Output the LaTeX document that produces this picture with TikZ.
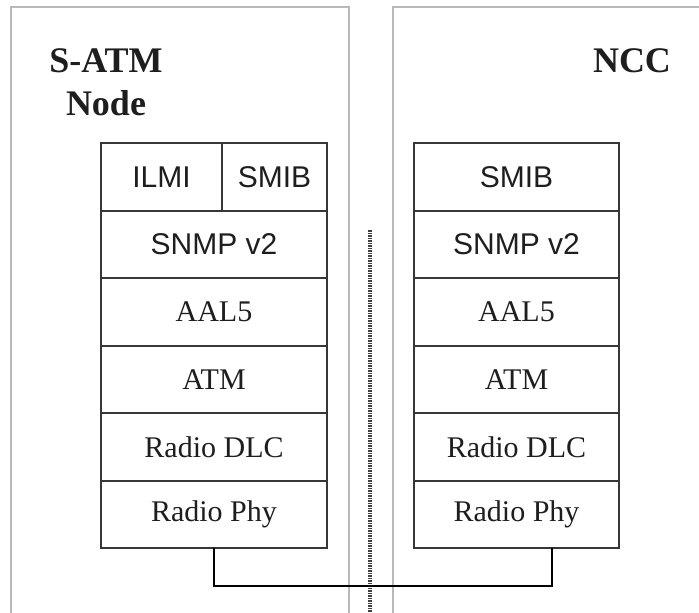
\documentclass[tikz,border=0pt]{standalone}
\usepackage{fontspec}
\setmainfont{Liberation Serif}
\newfontfamily\arialfont{Liberation Sans}
\usetikzlibrary{calc}
\definecolor{framegray}{RGB}{185,185,185}
\definecolor{cellline}{RGB}{55,55,55}
\definecolor{inktext}{RGB}{30,30,30}
\tikzset{
  frame/.style={draw=framegray, line width=1.4pt},
  layer/.style={draw=cellline, line width=2pt, rectangle, inner sep=0pt, outer sep=0pt,
                minimum height=67.5pt, text=inktext, font=\fontsize{30}{30}\selectfont},
  sanslayer/.style={layer, font=\arialfont\fontsize{30}{30}\selectfont},
  title/.style={font=\bfseries\fontsize{36}{43}\selectfont, text=inktext, align=center, inner sep=0pt},
  link/.style={draw=black, line width=2.8pt},
  divider/.style={draw=black!75, line width=3.5pt, dash pattern=on 1.5pt off 1pt}
}
\begin{document}
\begin{tikzpicture}[x=1pt,y=-1pt]
  \useasboundingbox (0,0) rectangle (699,613);
  \clip (0,0) rectangle (699,613);
  \fill[white] (0,0) rectangle (699,613);

  % the two enclosures
  \draw[frame] (11,7) rectangle (349,640);
  \draw[frame] (393,7) rectangle (720,640);

  % separator between the two sides
  \draw[divider] (370,230) -- (370,613);

  % titles (base anchor sits on the last line)
  \node[title, anchor=base] (satm) at (106,115) {S-ATM\\Node};
  \node[title, anchor=base] (ncc) at (632,72) {NCC};

  % S-ATM node protocol stack
  \node[sanslayer, minimum width=121pt, anchor=north west] (lilmi) at (101,143) {ILMI};
  \node[sanslayer, minimum width=105pt, anchor=north west] (lsmib) at (222,143) {SMIB};
  \node[sanslayer, minimum width=226pt, anchor=north west] (lsnmp) at (101,210.5) {SNMP v2};
  \node[layer, minimum width=226pt, anchor=north] (laal) at (lsnmp.south) {AAL5};
  \node[layer, minimum width=226pt, anchor=north] (latm) at (laal.south) {ATM};
  \node[layer, minimum width=226pt, anchor=north] (ldlc) at (latm.south) {Radio DLC};
  \node[layer, minimum width=226pt, anchor=north] (lphy) at (ldlc.south) {Radio Phy};

  % NCC protocol stack
  \node[sanslayer, minimum width=205pt, anchor=north west] (rsmib) at (414,143) {SMIB};
  \node[sanslayer, minimum width=205pt, anchor=north] (rsnmp) at (rsmib.south) {SNMP v2};
  \node[layer, minimum width=205pt, anchor=north] (raal) at (rsnmp.south) {AAL5};
  \node[layer, minimum width=205pt, anchor=north] (ratm) at (raal.south) {ATM};
  \node[layer, minimum width=205pt, anchor=north] (rdlc) at (ratm.south) {Radio DLC};
  \node[layer, minimum width=205pt, anchor=north] (rphy) at (rdlc.south) {Radio Phy};

  % physical link between the radio layers
  \draw[link] (lphy.south) -- ++(0,38) -| ($(rphy.south west)!0.673!(rphy.south east)$);
\end{tikzpicture}
\end{document}
